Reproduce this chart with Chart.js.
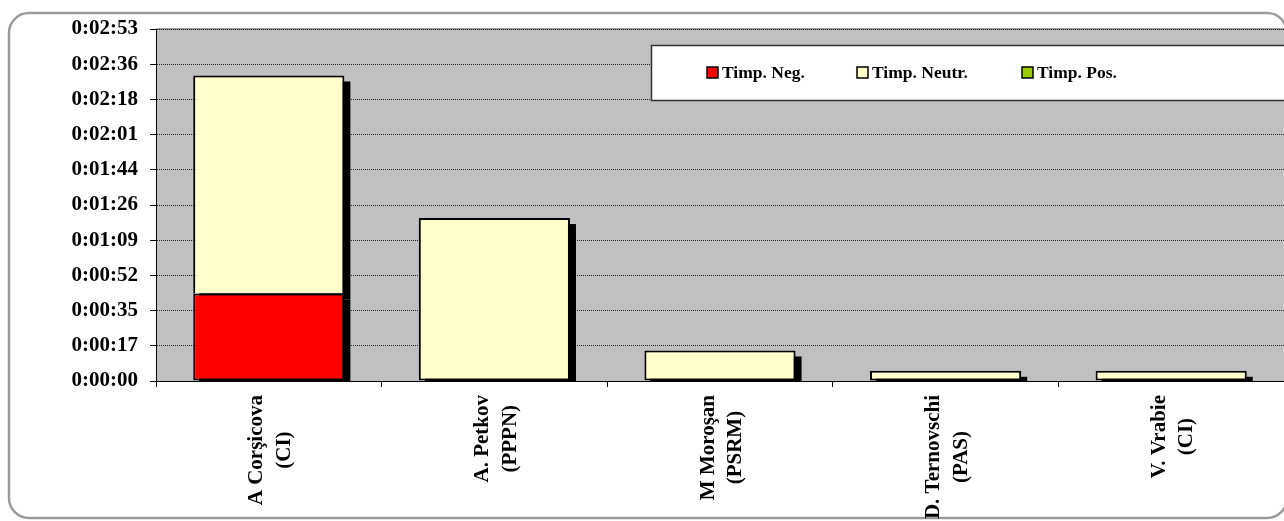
<!DOCTYPE html>
<html>
<head>
<meta charset="utf-8">
<script src="https://cdn.jsdelivr.net/npm/chart.js@4.4.1/dist/chart.umd.min.js"></script>
<style>
    html, body { margin: 0; padding: 0; background: #ffffff; }
    #wrap { width: 1284px; height: 521px; }
</style>
</head>
<body>
<div id="wrap"><canvas id="timeChart" width="1284" height="521"></canvas></div>
<script>

// ================= DATA =================

// Speakers (name, party) shown under each bar
const speakers = [
    ["A Corşicova", "(CI)"],
    ["A. Petkov", "(PPPN)"],
    ["M Moroşan", "(PSRM)"],
    ["D. Ternovschi", "(PAS)"],
    ["V. Vrabie", "(CI)"]
];

const seriesNames = ["Timp. Neg.", "Timp. Neutr.", "Timp. Pos."];

// Speaking time in seconds
const negSeconds = [43, 0, 0, 0, 0];
const neutrSeconds = [107, 80, 15, 5, 5];
const posSeconds = [0, 0, 0, 0, 0];

// Y axis tick labels (h:mm:ss), evenly spaced up to the max
const yTickLabels = [
    "0:00:00", "0:00:17", "0:00:35", "0:00:52", "0:01:09", "0:01:26",
    "0:01:44", "0:02:01", "0:02:18", "0:02:36", "0:02:53"
];
const yMaxSeconds = 172.8;

const seriesColors = ["#ff0000", "#ffffcc", "#99cc00"];

const FONT = "'Liberation Serif', 'Times New Roman', serif";


// ================= PLUGINS =================

// Rounded outer frame + grey plot area
const chartFrame = {
    id: "chartFrame",
    beforeDraw(chart) {
        const { ctx, chartArea } = chart;
        ctx.save();
        ctx.fillStyle = "#ffffff";
        ctx.fillRect(0, 0, chart.width, chart.height);

        ctx.strokeStyle = "#9a9a9a";
        ctx.lineWidth = 2.5;
        ctx.beginPath();
        ctx.roundRect(9, 13, 1278, 505, 20);
        ctx.stroke();

        ctx.fillStyle = "#c0c0c0";
        ctx.fillRect(
            chartArea.left,
            chartArea.top,
            chartArea.right - chartArea.left,
            chartArea.bottom - chartArea.top
        );
        ctx.strokeStyle = "#808080";
        ctx.lineWidth = 1.5;
        ctx.beginPath();
        ctx.moveTo(chartArea.left, chartArea.top);
        ctx.lineTo(chartArea.right, chartArea.top);
        ctx.stroke();
        ctx.restore();
    }
};

// Black drop shadow to the lower right of every bar
const barShadow = {
    id: "barShadow",
    beforeDatasetsDraw(chart) {
        const { ctx, chartArea } = chart;
        ctx.save();
        ctx.beginPath();
        ctx.rect(
            chartArea.left,
            chartArea.top,
            chartArea.right - chartArea.left,
            chartArea.bottom - chartArea.top + 1
        );
        ctx.clip();
        ctx.fillStyle = "#000000";
        chart.data.datasets.forEach((ds, i) => {
            chart.getDatasetMeta(i).data.forEach(bar => {
                const h = bar.base - bar.y;
                if (h <= 0) return;
                ctx.fillRect(bar.x - bar.width / 2 + 6, bar.y + 6, bar.width, h);
            });
        });
        ctx.restore();
    }
};

// Legend in a white box inside the plot area
const legendBox = {
    id: "legendBox",
    afterDatasetsDraw(chart) {
        const { ctx } = chart;
        const itemX = [707, 857, 1022];
        ctx.save();
        ctx.fillStyle = "#ffffff";
        ctx.fillRect(651, 45, 640, 55);
        ctx.strokeStyle = "#333333";
        ctx.lineWidth = 1.5;
        ctx.strokeRect(651.5, 45.5, 640, 55);

        ctx.font = "bold 17.5px " + FONT;
        ctx.textBaseline = "alphabetic";
        ctx.textAlign = "left";
        chart.data.datasets.forEach((ds, i) => {
            const x = itemX[i];
            ctx.fillStyle = ds.backgroundColor;
            ctx.fillRect(x, 67, 11, 11);
            ctx.strokeStyle = "#000000";
            ctx.lineWidth = 1.5;
            ctx.strokeRect(x, 67, 11, 11);
            ctx.fillStyle = "#000000";
            ctx.fillText(ds.label, x + 15, 78);
        });
        ctx.restore();
    }
};

// Vertical two-line category labels, lines centred on each other
const rotatedLabels = {
    id: "rotatedLabels",
    afterDraw(chart) {
        const { ctx } = chart;
        const xScale = chart.scales.x;
        const lineGap = 27.5;
        ctx.save();
        ctx.font = "bold 21px " + FONT;
        ctx.fillStyle = "#000000";
        ctx.textAlign = "center";
        ctx.textBaseline = "middle";
        chart.data.labels.forEach((lines, i) => {
            const cx = xScale.getPixelForValue(i) + 2;
            const widest = Math.max(...lines.map(l => ctx.measureText(l).width));
            const cy = xScale.top + 14 + widest / 2;
            lines.forEach((line, j) => {
                const off = (j - (lines.length - 1) / 2) * lineGap;
                ctx.save();
                ctx.translate(cx + off, cy);
                ctx.rotate(-Math.PI / 2);
                ctx.fillText(line, 0, 0);
                ctx.restore();
            });
        });
        ctx.restore();
    }
};


// ================= CHART =================

new Chart(
    document.getElementById("timeChart"),
    {
        type: "bar",

        data: {
            labels: speakers,
            datasets: [
                {
                    label: seriesNames[0],
                    data: negSeconds,
                    backgroundColor: seriesColors[0]
                },
                {
                    label: seriesNames[1],
                    data: neutrSeconds,
                    backgroundColor: seriesColors[1],
                    // sits on the red part in the first bar
                    borderSkipped: ctx =>
                        negSeconds[ctx.dataIndex] > 0 ? "bottom" : false
                },
                {
                    label: seriesNames[2],
                    data: posSeconds,
                    backgroundColor: seriesColors[2]
                }
            ]
        },

        options: {
            responsive: false,
            animation: false,
            devicePixelRatio: 1,

            layout: {
                padding: { top: 29, left: 0, right: 0, bottom: 0 }
            },

            datasets: {
                bar: {
                    borderColor: "#000000",
                    borderWidth: 2,
                    borderSkipped: false,
                    barPercentage: 1,
                    categoryPercentage: 0.67
                }
            },

            plugins: {
                legend: { display: false },
                tooltip: { enabled: false }
            },

            scales: {
                x: {
                    stacked: true,
                    afterFit(scale) { scale.height = 140; },
                    ticks: { display: false },
                    grid: {
                        offset: true,
                        drawOnChartArea: false,
                        drawTicks: true,
                        tickLength: 6,
                        color: "#000000"
                    },
                    border: { color: "#000000", width: 1 }
                },
                y: {
                    stacked: true,
                    min: 0,
                    max: yMaxSeconds,
                    afterFit(scale) { scale.width = 156; },
                    afterBuildTicks(scale) {
                        scale.ticks = yTickLabels.map((label, i) => ({
                            value: i * yMaxSeconds / (yTickLabels.length - 1)
                        }));
                    },
                    ticks: {
                        padding: 12,
                        color: "#000000",
                        font: { family: FONT, size: 21, weight: "bold" },
                        callback: (value, index) => yTickLabels[index]
                    },
                    grid: {
                        color: "#222222",
                        lineWidth: 1,
                        tickLength: 6,
                        tickColor: "#000000",
                        tickBorderDash: []
                    },
                    border: { color: "#000000", width: 1, dash: [1, 1] }
                }
            }
        },

        plugins: [chartFrame, barShadow, legendBox, rotatedLabels]
    }
);
</script>
</body>
</html>
